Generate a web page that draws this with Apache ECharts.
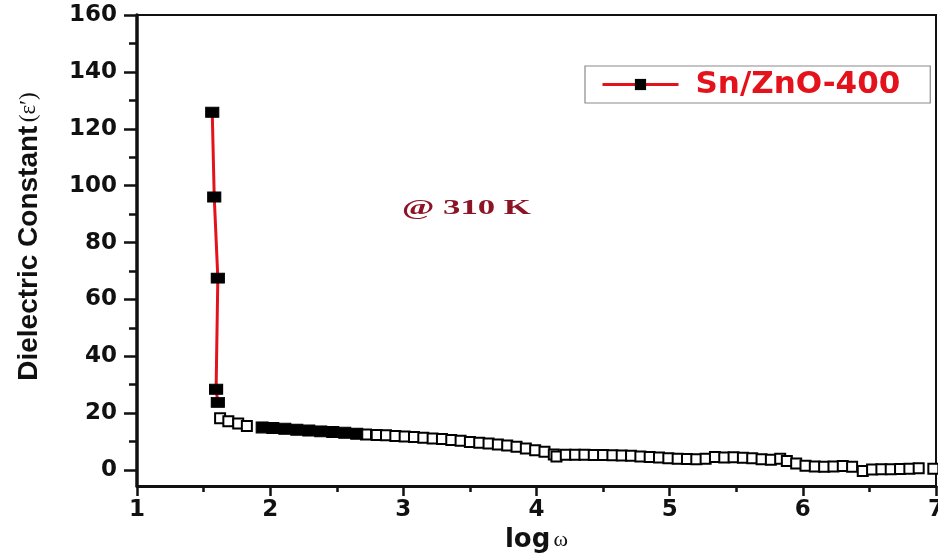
<!DOCTYPE html>
<html>
<head>
<meta charset="utf-8">
<script src="https://cdn.jsdelivr.net/npm/echarts@6/dist/echarts.min.js"></script>
<style>html,body{margin:0;padding:0;background:#fff}#c{width:938px;height:554px}</style>
</head>
<body>
<div id="c"></div>
<script>
// ---- data ----
const seriesName = 'Sn/ZnO-400';
const spikeX = [1.565, 1.58, 1.607, 1.594, 1.607];
const spikeY = [125.8, 96.0, 67.5, 28.4, 23.8];
const tailFilledX = [1.94, 2.02, 2.11, 2.20, 2.29, 2.38, 2.47, 2.56, 2.65];
const tailFilledY = [15.0, 14.8, 14.5, 14.2, 13.9, 13.6, 13.4, 13.1, 12.8];
const tailOpenX = [1.624, 1.686, 1.76, 1.825,
  2.72, 2.80, 2.87, 2.94, 3.01, 3.08, 3.15, 3.22, 3.29, 3.36, 3.43, 3.50, 3.57, 3.64, 3.71, 3.78,
  3.85, 3.92, 3.99, 4.06, 4.13, 4.15, 4.22, 4.29, 4.36, 4.43, 4.50, 4.57, 4.64, 4.71, 4.78, 4.85,
  4.92, 4.99, 5.06, 5.13, 5.20, 5.27, 5.34, 5.41, 5.48, 5.55, 5.62, 5.69, 5.76, 5.83, 5.88, 5.95,
  6.02, 6.09, 6.16, 6.23, 6.30, 6.37, 6.45, 6.52, 6.59, 6.66, 6.73, 6.80, 6.87, 6.98];
const tailOpenY = [18.2, 17.2, 16.4, 15.5,
  12.5, 12.3, 12.2, 12.0, 11.8, 11.6, 11.4, 11.1, 10.9, 10.6, 10.3, 9.9, 9.6, 9.3, 9.0, 8.6,
  8.2, 7.6, 7.0, 6.4, 5.5, 4.8, 5.4, 5.4, 5.4, 5.3, 5.3, 5.2, 5.1, 5.0, 4.8, 4.6,
  4.4, 4.2, 4.0, 3.9, 3.8, 4.0, 4.6, 4.4, 4.5, 4.3, 4.2, 3.8, 3.6, 4.0, 3.2, 2.3,
  1.5, 1.3, 1.2, 1.3, 1.4, 1.2, -0.3, 0.2, 0.3, 0.3, 0.4, 0.5, 0.6, 0.5];
const xMin = 1, xMax = 7, xStep = 1;
const yMin = -5.6, yMax = 160;
const yLabelValues = [0, 20, 40, 60, 80, 100, 120, 140, 160];
const yMinorValues = [10, 30, 50, 70, 90, 110, 130, 150];
const annotation = '@ 310 K';

const zip = (a, b) => a.map((v, i) => [v, b[i]]);

const chart = echarts.init(document.getElementById('c'), null, {renderer: 'canvas'});
const tickFont = {fontFamily: 'DejaVu Sans', fontWeight: 'bold', fontSize: 23, color: '#111'};

chart.setOption({
  animation: false,
  backgroundColor: '#fff',
  grid: {left: 137, right: 2, top: 15, bottom: 68, containLabel: false, outerBoundsMode: 'none',
         show: true, borderColor: '#111', borderWidth: 2, backgroundColor: 'transparent'},
  legend: {
    left: 585, top: 66,
    padding: [3, 30, 3, 16],
    borderColor: '#8a8a8a', borderWidth: 1.2,
    itemWidth: 76, itemHeight: 14, itemGap: 10,
    lineStyle: {width: 3},
    textStyle: {color: '#e3121b', fontFamily: 'DejaVu Sans', fontWeight: 'bold', fontSize: 31, padding: [0, 0, 0, 12]},
    data: [seriesName]
  },
  xAxis: {
    type: 'value', min: xMin, max: xMax, interval: xStep,
    name: '{a|log} {b|ω}', nameLocation: 'middle', nameGap: 30,
    nameTextStyle: {rich: {
      a: {fontFamily: 'DejaVu Sans', fontWeight: 'bold', fontSize: 26, color: '#111'},
      b: {fontFamily: 'Liberation Serif', fontSize: 22, color: '#111'}
    }},
    axisLine: {show: true, onZero: false, lineStyle: {color: '#111', width: 3}},
    axisTick: {show: true, inside: false, length: 10, lineStyle: {color: '#111', width: 2.5}},
    minorTick: {show: true, splitNumber: 2, length: 6, lineStyle: {color: '#111', width: 2.5}},
    axisLabel: Object.assign({margin: 13}, tickFont),
    splitLine: {show: false}
  },
  yAxis: [{
    type: 'value', min: yMin, max: yMax,
    name: '{a|Dielectric Constant} {b|(ε′)}', nameLocation: 'middle', nameGap: 94, nameRotate: 90,
    nameTextStyle: {padding: [0, 0, 0, 28], rich: {
      a: {fontFamily: 'Liberation Sans', fontWeight: 'bold', fontSize: 28, color: '#111'},
      b: {fontFamily: 'Liberation Serif', fontSize: 23, color: '#111'}
    }},
    axisLine: {show: true, onZero: false, lineStyle: {color: '#111', width: 3.5}},
    axisTick: {show: true, inside: false, length: 13, customValues: yLabelValues, lineStyle: {color: '#111', width: 2.5}},
    axisLabel: Object.assign({margin: 20, customValues: yLabelValues}, tickFont),
    splitLine: {show: false}
  }, {
    type: 'value', min: yMin, max: yMax, position: 'left',
    axisLine: {show: false},
    axisTick: {show: true, inside: false, length: 8, customValues: yMinorValues, lineStyle: {color: '#111', width: 2.5}},
    axisLabel: {show: false, customValues: []},
    splitLine: {show: false}
  }],
  graphic: [{
    type: 'text', left: 402, top: 197, scaleX: 1.58,
    style: {text: annotation, fill: '#8c1424', font: 'bold 22px "Liberation Serif"'}
  }],
  series: [{
    name: seriesName, type: 'line', data: zip(spikeX, spikeY),
    symbol: 'rect', symbolSize: [13, 10], showAllSymbol: true,
    lineStyle: {color: '#e3121b', width: 3},
    itemStyle: {color: '#000', borderColor: '#000', opacity: 1},
    z: 3
  }, {
    name: 'tailOpen', type: 'scatter', data: zip(tailOpenX, tailOpenY),
    symbol: 'rect', symbolSize: [10, 10], clip: true,
    itemStyle: {color: '#fff', borderColor: '#000', borderWidth: 2, opacity: 1},
    z: 2
  }, {
    name: 'tailFilled', type: 'scatter', data: zip(tailFilledX, tailFilledY),
    symbol: 'rect', symbolSize: [12, 11], clip: true,
    itemStyle: {color: '#000', borderColor: '#000', opacity: 1},
    z: 2
  }]
});
</script>
</body>
</html>
